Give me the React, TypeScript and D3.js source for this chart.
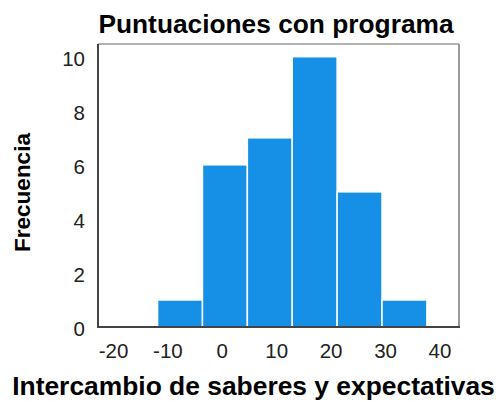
import React from "react";
import * as d3 from "d3";

const title = "Puntuaciones con programa";
const xTitle = "Intercambio de saberes y expectativas";
const yTitle = "Frecuencia";
const binEdges = [-11.9, -3.65, 4.6, 12.85, 21.1, 29.35, 37.6];
const counts = [1, 6, 7, 10, 5, 1];
const xTicks = [-20, -10, 0, 10, 20, 30, 40];
const yTicks = [0, 2, 4, 6, 8, 10];

const W = 501, H = 401;
const L = 98, R = 459, T = 44, B = 327;
const FONT = "'Liberation Sans', Arial, Helvetica, sans-serif";

export default function App() {
  const x = d3.scaleLinear().domain([-22.85, 43.5]).range([L, R]);
  const y = d3.scaleLinear().domain([0, 10.47]).range([B, T]);
  return (
    <svg width={W} height={H} style={{ position: "absolute", left: 0, top: 0, background: "#fff" }}>
      <rect x={0} y={0} width={W} height={H} fill="#fff" />
      <text x={276} y={33} textAnchor="middle" fontFamily={FONT} fontWeight="bold" fontSize={26.3}>{title}</text>
      <line x1={L} x2={R} y1={T} y2={T} stroke="#9a9a9a" strokeWidth={1.5} />
      <line x1={R} x2={R} y1={T} y2={B} stroke="#7a7a7a" strokeWidth={1.5} />
      {counts.map((c, i) => {
        const x0 = x(binEdges[i]);
        const x1 = x(binEdges[i + 1]);
        return (
          <rect key={i} x={x0} y={y(c)} width={x1 - x0} height={B - y(c)} fill="#1690e6" stroke="#ffffff" strokeWidth={1.5} />
        );
      })}
      <line x1={L} x2={L} y1={T} y2={B + 1} stroke="#444" strokeWidth={2} />
      <line x1={L - 1} x2={R + 1} y1={B} y2={B} stroke="#444" strokeWidth={2} />
      {yTicks.map((t) => (
        <text key={t} x={85} y={y(t) + 2} dy="0.35em" textAnchor="end" fontFamily={FONT} fontSize={20.5} fill="#222">{t}</text>
      ))}
      {xTicks.map((t) => (
        <text key={t} x={x(t)} y={351} dy="0.35em" textAnchor="middle" fontFamily={FONT} fontSize={20.5} fill="#222">{t}</text>
      ))}
      <text x={253.5} y={395} textAnchor="middle" fontFamily={FONT} fontWeight="bold" fontSize={26.4}>{xTitle}</text>
      <text transform={`translate(30,${(T + B) / 2 + 7}) rotate(-90)`} textAnchor="middle" fontFamily={FONT} fontWeight="bold" fontSize={22.5}>{yTitle}</text>
    </svg>
  );
}
